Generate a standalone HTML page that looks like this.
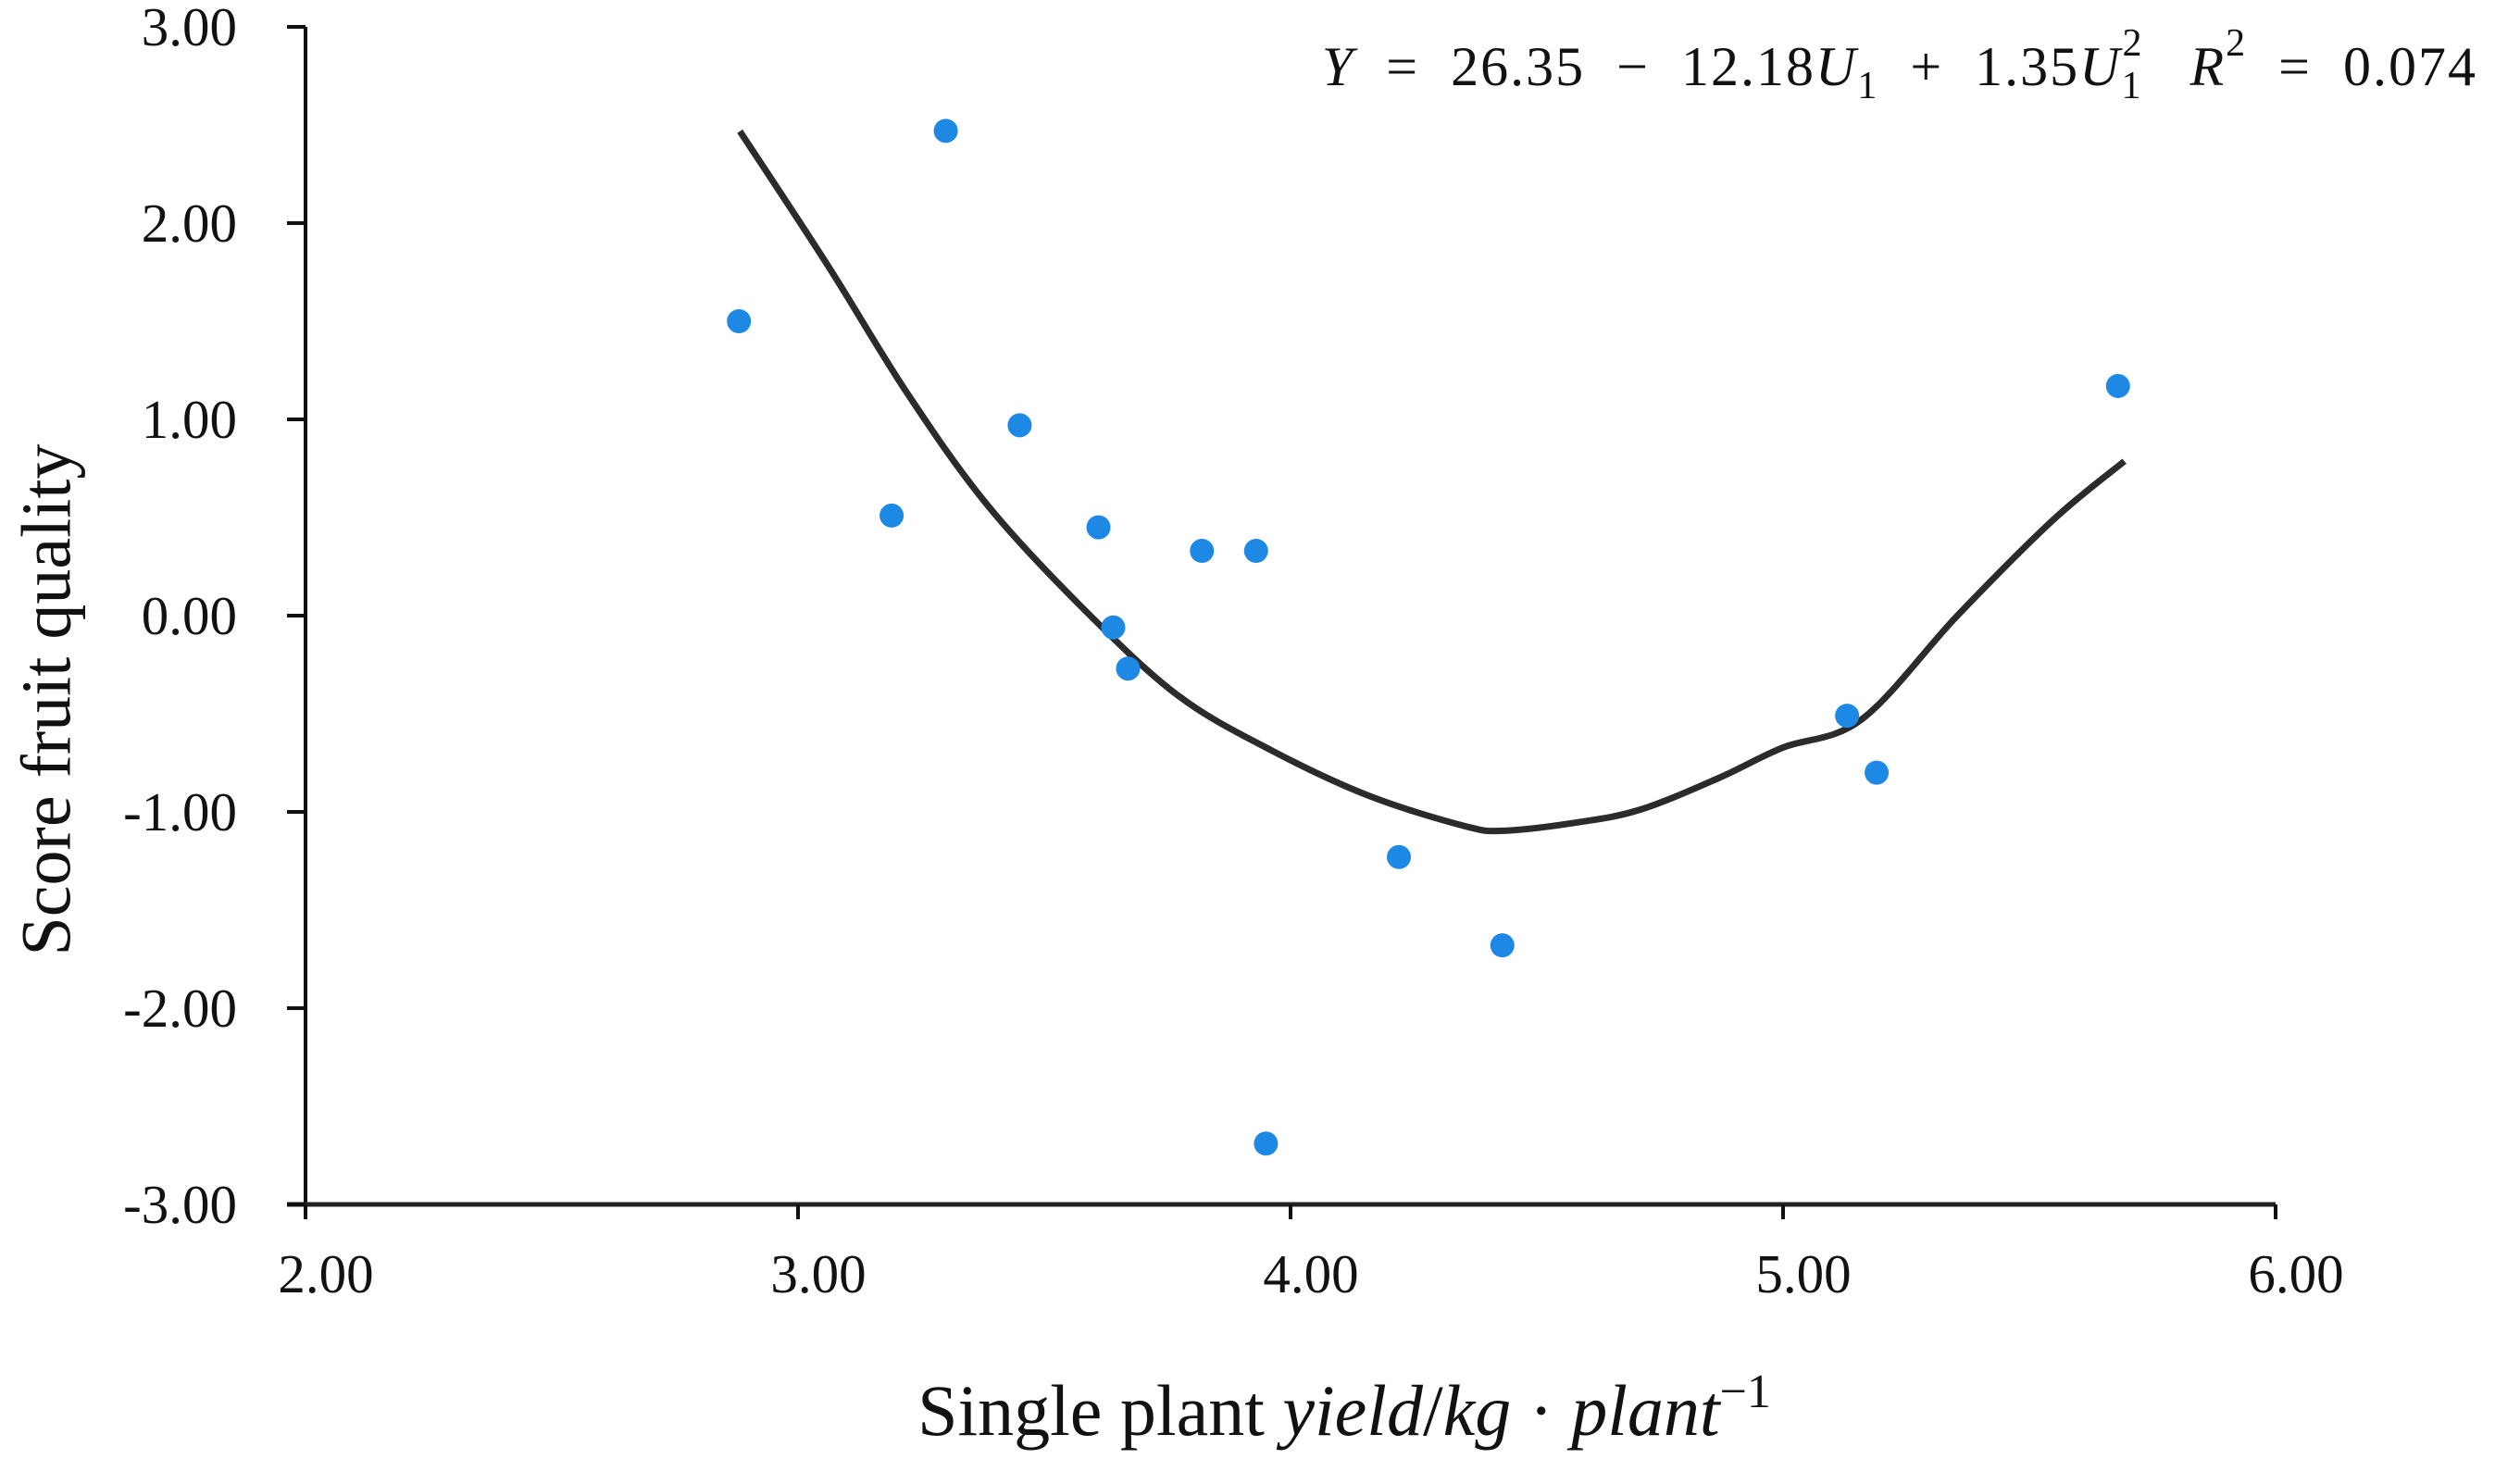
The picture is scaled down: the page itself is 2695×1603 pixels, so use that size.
<!DOCTYPE html>
<html><head><meta charset="utf-8"><style>
html,body{margin:0;padding:0;background:#fff;}
svg{display:block;}
text{font-family:"Liberation Serif",serif;fill:#111;}
</style></head><body>
<svg id="chart" width="2695" height="1603" viewBox="0 0 2695 1603">
<g id="axes"></g>
<path id="fit" fill="none" stroke="#2b2b2b" stroke-width="7" stroke-linejoin="round"/>
<g id="pts"></g>
<text x="58" y="756" font-size="76" text-anchor="middle" transform="rotate(-90 58 756)" dominant-baseline="middle">Score fruit quality</text>
<text x="1452" y="1550" font-size="78" text-anchor="middle">Single plant <tspan font-style="italic">yield</tspan>/<tspan font-style="italic">kg</tspan> · <tspan font-style="italic">plant</tspan><tspan dy="-30" font-size="52">−1</tspan></text>
<text x="2676" y="92" font-size="60" text-anchor="end" letter-spacing="2" xml:space="preserve"><tspan font-style="italic">Y</tspan>  =  26.35  −  12.18<tspan font-style="italic">U</tspan><tspan dy="14" font-size="42">1</tspan><tspan dy="-14">  +  1.35</tspan><tspan font-style="italic">U</tspan><tspan dy="14" font-size="42">1</tspan><tspan dy="-46" dx="-22" font-size="42">2</tspan><tspan dy="32" dx="50"><tspan font-style="italic">R</tspan></tspan><tspan dy="-32" font-size="42">2</tspan><tspan dy="32">  =  0.074</tspan></text>
</svg>
<script>
const xTicks=[2,3,4,5,6];
const yTicks=[3,2,1,0,-1,-2,-3];
const xLabels=["2.00","3.00","4.00","5.00","6.00"];
const yLabels=["3.00","2.00","1.00","0.00","-1.00","-2.00","-3.00"];
const ptX=[2.88,3.30,3.19,3.45,3.61,3.82,3.93,3.64,3.67,4.22,4.43,3.95,5.13,5.19,5.68];
const ptY=[1.50,2.47,0.51,0.97,0.45,0.33,0.33,-0.06,-0.27,-1.23,-1.68,-2.69,-0.51,-0.80,1.17];
const fitX=[2.882,3.060,3.221,3.383,3.577,3.771,3.964,4.158,4.352,4.433,4.578,4.708,4.869,4.998,5.160,5.354,5.548,5.693];
const fitY=[2.468,1.786,1.136,0.568,0.041,-0.406,-0.690,-0.917,-1.071,-1.096,-1.055,-0.990,-0.828,-0.674,-0.528,0.0,0.487,0.787];
const X0=330,X1=2458,Y0=1301,Y1=29;
const sx=v=>X0+(v-2)/4*(X1-X0);
const sy=v=>Y0-(v+3)/6*(Y0-Y1);
const NS="http://www.w3.org/2000/svg";
const axes=document.getElementById('axes');
function mk(tag,attrs,parent){const e=document.createElementNS(NS,tag);for(const k in attrs)e.setAttribute(k,attrs[k]);parent.appendChild(e);return e;}
let l=mk('line',{x1:X0,y1:Y1,x2:X0,y2:Y0+14,stroke:'#111','stroke-width':4},axes);


l=mk('line',{x1:X0-20,y1:Y0,x2:X1,y2:Y0,stroke:'#222','stroke-width':5},axes);


yTicks.forEach((v,i)=>{
  const t=mk('line',{x1:X0-20,y1:sy(v),x2:X0,y2:sy(v),stroke:'#111','stroke-width':4},axes);
  
  
  const tx=mk('text',{x:256,y:sy(v)+20,'font-size':59,'text-anchor':'end'},axes);
  tx.textContent=yLabels[i];
  
  
});
xTicks.forEach((v,i)=>{
  const t=mk('line',{x1:sx(v),y1:Y0,x2:sx(v),y2:Y0+16,stroke:'#111','stroke-width':4},axes);
  
  
  const tx=mk('text',{x:sx(v)+22,y:1396,'font-size':59,'text-anchor':'middle'},axes);
  tx.textContent=xLabels[i];
  
  
});
// smooth Catmull-Rom path through fit points
const P=fitX.map((v,i)=>[sx(v),sy(fitY[i])]);
let d='M'+P[0][0].toFixed(1)+' '+P[0][1].toFixed(1);
for(let i=0;i<P.length-1;i++){
  const p0=P[Math.max(0,i-1)],p1=P[i],p2=P[i+1],p3=P[Math.min(P.length-1,i+2)];
  const c1=[p1[0]+(p2[0]-p0[0])/6,p1[1]+(p2[1]-p0[1])/6];
  const c2=[p2[0]-(p3[0]-p1[0])/6,p2[1]-(p3[1]-p1[1])/6];
  d+=' C'+c1.map(n=>n.toFixed(1)).join(' ')+' '+c2.map(n=>n.toFixed(1)).join(' ')+' '+p2.map(n=>n.toFixed(1)).join(' ');
}
document.getElementById('fit').setAttribute('d',d);
const pts=document.getElementById('pts');
ptX.forEach((v,i)=>{
  const c=mk('circle',{cx:sx(v),cy:sy(ptY[i]),r:13,fill:'#1e88e5'},pts);
  
  
});
</script>
</body></html>
